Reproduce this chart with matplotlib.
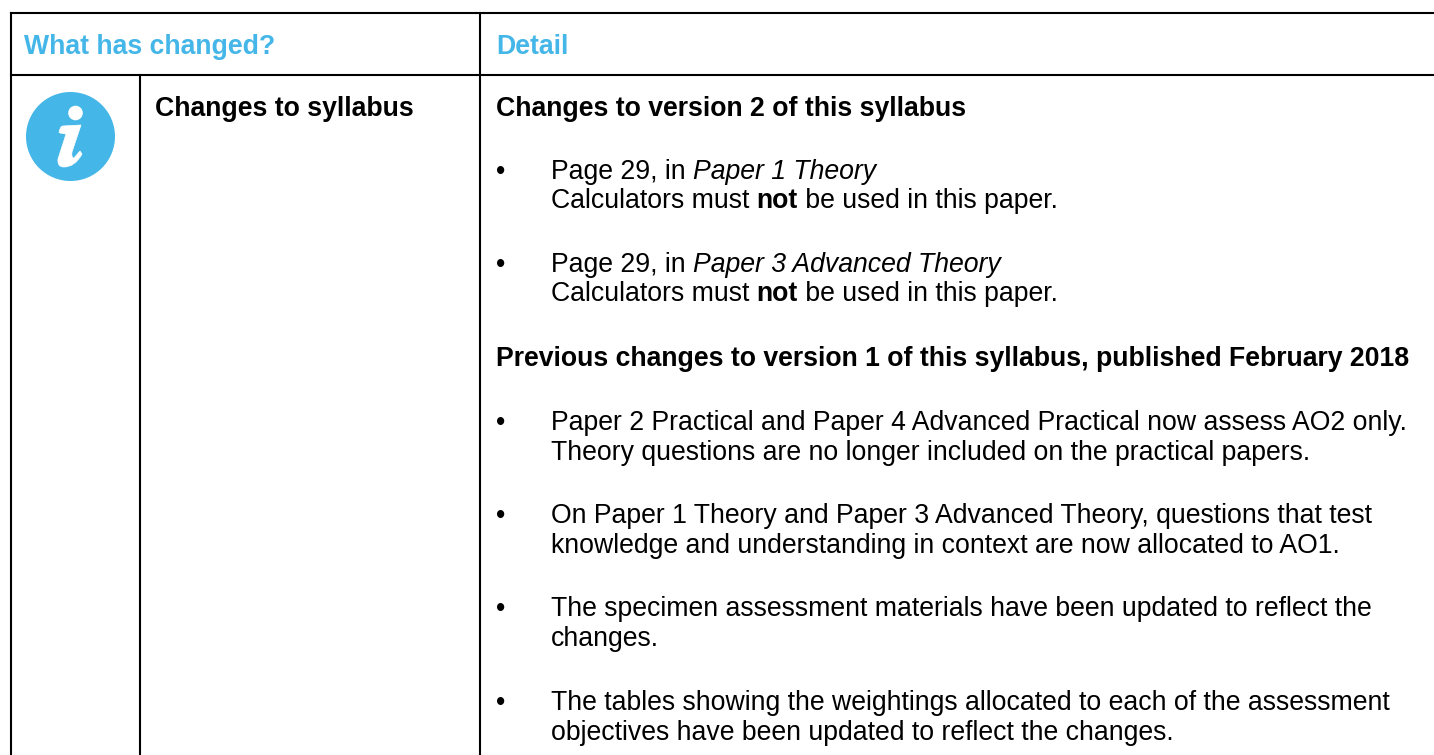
import matplotlib
matplotlib.use('Agg')
import matplotlib.pyplot as plt
from matplotlib.patches import Circle, PathPatch
from matplotlib.path import Path

BLUE = '#45B6E8'
W, H = 1434, 755

plt.rcParams['font.family'] = ['Liberation Sans']

headers = ['What has changed?', 'Detail']
side_label = 'Changes to syllabus'

# each line is a list of (text, style) runs, b = bold, i = italic, n = normal
heading_1 = [('Changes to version 2 of this syllabus', 'b')]
heading_2 = [('Previous changes to version 1 of this syllabus, published February 2018', 'b')]
calc_line = [('Calculators must ', 'n'), ('not', 'b'), (' be used in this paper.', 'n')]
bullets_a = [
    [[('Page 29, in ', 'n'), ('Paper 1 Theory', 'i')], calc_line],
    [[('Page 29, in ', 'n'), ('Paper 3 Advanced Theory', 'i')], calc_line],
]
bullets_b = [
    [[('Paper 2 Practical and Paper 4 Advanced Practical now assess AO2 only.', 'n')],
     [('Theory questions are no longer included on the practical papers.', 'n')]],
    [[('On Paper 1 Theory and Paper 3 Advanced Theory, questions that test', 'n')],
     [('knowledge and understanding in context are now allocated to AO1.', 'n')]],
    [[('The specimen assessment materials have been updated to reflect the', 'n')],
     [('changes.', 'n')]],
    [[('The tables showing the weightings allocated to each of the assessment', 'n')],
     [('objectives have been updated to reflect the changes.', 'n')]],
]

fig = plt.figure(figsize=(W / 100, H / 100), dpi=100)
ax = fig.add_axes([0, 0, 1, 1])
ax.set_xlim(0, W)
ax.set_ylim(H, 0)
ax.axis('off')

FS = 19.2

# table rules
for x0, y0, x1, y1 in [(11, 13, W, 13), (11, 75, W, 75), (11, 13, 11, H),
                       (140, 75, 140, H), (480, 13, 480, H)]:
    ax.plot([x0, x1], [y0, y1], color='black', lw=1.5, solid_capstyle='projecting')


def put_line(x, y, runs, color='black'):
    # lay the runs end to end, measuring each one
    rend = fig.canvas.get_renderer()
    for text, style in runs:
        t = ax.text(x, y, text, fontsize=FS, color=color, va='baseline', ha='left',
                    fontweight='bold' if style == 'b' else 'normal',
                    fontstyle='italic' if style == 'i' else 'normal')
        # trailing spaces get dropped from the extent so measure with a stand-in
        probe = ax.text(0, 0, text.replace(' ', '\u00a0'), fontsize=FS,
                        fontweight=t.get_fontweight(), fontstyle=t.get_fontstyle())
        x += probe.get_window_extent(rend).width
        probe.remove()


put_line(24, 54, [(headers[0], 'b')], BLUE)
put_line(496, 54, [(headers[1], 'b')], BLUE)
put_line(155, 116, [(side_label, 'b')])
put_line(496, 116, heading_1)
put_line(496, 366, heading_2)

for block, y in zip(bullets_a, [179, 272]):
    ax.text(496, y, '•', fontsize=FS, va='baseline')
    put_line(551, y, block[0])
    put_line(551, y + 29, block[1])

for block, y in zip(bullets_b, [430, 523, 616, 710]):
    ax.text(496, y, '•', fontsize=FS, va='baseline')
    put_line(551, y, block[0])
    put_line(551, y + 30, block[1])

# info icon
ax.add_patch(Circle((70.5, 136.5), 44.5, color=BLUE, lw=0))
ax.add_patch(Circle((75.5, 113), 7.3, color='white', lw=0))
glyph = [
    (59, 133), (60, 126), (63, 126), (81, 125), (72, 152), (71, 158),
    (74, 158), (80, 151), (82, 154), (75, 167), (64, 167), (57, 167),
    (58, 159), (66, 134), (60, 133),
]
codes = [Path.MOVETO, Path.CURVE3, Path.CURVE3, Path.LINETO, Path.LINETO, Path.CURVE3,
         Path.CURVE3, Path.LINETO, Path.LINETO, Path.CURVE3, Path.CURVE3, Path.CURVE3,
         Path.CURVE3, Path.LINETO, Path.LINETO]
ax.add_patch(PathPatch(Path(glyph, codes), facecolor='white', edgecolor='white', lw=0.5))

fig.savefig('out.png', dpi=100)
